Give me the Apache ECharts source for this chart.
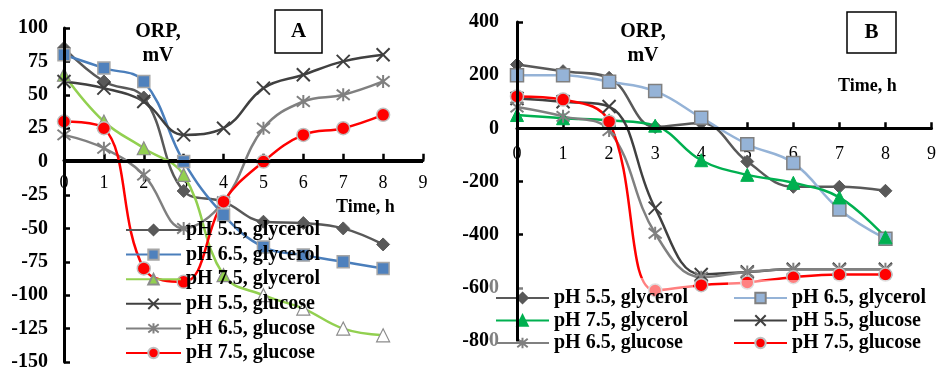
<!DOCTYPE html>
<html><head><meta charset="utf-8">
<script src="https://cdn.jsdelivr.net/npm/echarts@6/dist/echarts.min.js"></script>
<style>html,body{margin:0;padding:0;background:#fff}#c{width:939px;height:372px}</style>
</head><body><div id="c"></div>
<script>
// ---- data ----
const hours = [0, 1, 2, 3, 4, 5, 6, 7, 8];
const seriesNames = ['pH 5.5, glycerol', 'pH 6.5, glycerol', 'pH 7.5, glycerol', 'pH 5.5, glucose', 'pH 6.5, glucose', 'pH 7.5, glucose'];

// Panel A (ORP, mV)
const aPh55Glycerol = [85, 60, 48, -22, -30, -45, -46, -50, -62];
const aPh65Glycerol = [80, 70, 60, 0, -40, -64, -70, -75, -80];
const aPh75Glycerol = [65, 30, 10, -10, -85, -100, -110, -125, -130];
const aPh55Glucose  = [60, 55, 45, 20, 25, 55, 65, 75, 80];
const aPh65Glucose  = [20, 10, -10, -50, -30, 25, 45, 50, 60];
const aPh75Glucose  = [30, 25, -80, -90, -30, 0, 20, 25, 35];

// Panel B (ORP, mV)
const bPh55Glycerol = [240, 215, 190, 5, 20, -125, -220, -220, -235];
const bPh65Glycerol = [200, 200, 175, 140, 40, -60, -130, -305, -415];
const bPh75Glycerol = [50, 38, 30, 10, -120, -175, -205, -260, -410];
const bPh55Glucose  = [112, 100, 82, -300, -550, -540, -530, -530, -530];
const bPh65Glucose  = [80, 45, -8, -395, -560, -540, -530, -530, -530];
const bPh75Glucose  = [120, 108, 25, -610, -590, -580, -560, -550, -550];

const aValues = [aPh55Glycerol, aPh65Glycerol, aPh75Glycerol, aPh55Glucose, aPh65Glucose, aPh75Glucose];
const bValues = [bPh55Glycerol, bPh65Glycerol, bPh75Glycerol, bPh55Glucose, bPh65Glucose, bPh75Glucose];

const xTickMin = 0, xTickMax = 9, xTickStep = 1;
const aYMin = -150, aYMax = 100, aYStep = 25;
const bYMin = -800, bYMax = 400, bYStep = 200;

// ---- layout / styles ----
const FONT = 'Liberation Serif';
const gridA = {left: 64, top: 28, width: 359, height: 337};
const gridB = {left: 517, top: 22, width: 416, height: 319};
const X_PATH = 'path://M1,1L9,9M9,1L1,9';
const STAR_PATH = 'path://M1,1L9,9M9,1L1,9M5,0L5,10';

const aStyles = [
  {line: '#595959', fill: '#595959', border: '#595959', symbol: 'diamond', size: 13, bw: 1},
  {line: '#4a7ebb', fill: '#4f81bd', border: '#a6a6a6', symbol: 'rect', size: 12, bw: 1.5},
  {line: '#92d050', fill: '#92d050', border: '#8c8c8c', symbol: 'triangle', size: 13, bw: 1.2, hollowFrom: 5},
  {line: '#404040', fill: '#404040', border: '#404040', symbol: X_PATH, size: 13, bw: 2},
  {line: '#808080', fill: '#808080', border: '#808080', symbol: STAR_PATH, size: 13, bw: 2},
  {line: '#ff0000', fill: '#ff0000', border: '#bfbfbf', symbol: 'circle', size: 13, bw: 1.5}
];
const bStyles = [
  {line: '#595959', fill: '#595959', border: '#595959', symbol: 'diamond', size: 13, bw: 1},
  {line: '#95b3d7', fill: '#95b3d7', border: '#808080', symbol: 'rect', size: 13, bw: 1.5},
  {line: '#00b050', fill: '#00b050', border: '#00b050', symbol: 'triangle', size: 13, bw: 1},
  {line: '#404040', fill: '#404040', border: '#404040', symbol: X_PATH, size: 13, bw: 2},
  {line: '#808080', fill: '#808080', border: '#808080', symbol: STAR_PATH, size: 13, bw: 2},
  {line: '#ff0000', fill: '#ff0000', border: '#bfbfbf', symbol: 'circle', size: 13, bw: 1.5}
];

// axis lines reinforced through the library's own scales (x = 0 and y = 0)
const axisMarkLine = {
  silent: true, animation: false, symbol: ['none', 'none'],
  label: {show: false}, emphasis: {disabled: true},
  lineStyle: {color: '#000', width: 3, type: 'solid'},
  data: [{xAxis: 0}, {yAxis: 0}]
};

function makeSeries(panelB, idx, values, st) {
  const s = {
    type: 'line',
    name: (panelB ? 'B: ' : '') + seriesNames[idx],
    xAxisIndex: panelB ? 1 : 0,
    yAxisIndex: panelB ? 1 : 0,
    smooth: 0.4,
    symbol: st.symbol,
    symbolSize: st.size,
    lineStyle: {color: st.line, width: 2.5},
    itemStyle: {color: st.fill, borderColor: st.border, borderWidth: st.bw},
    data: hours.map((h, i) => {
      const d = {value: [h, values[i]]};
      if (st.hollowFrom !== undefined && i >= st.hollowFrom) d.itemStyle = {color: '#ffffff', borderColor: '#8c8c8c', borderWidth: 1.2};
      return d;
    }),
    emphasis: {disabled: true},
    animation: false
  };
  if (idx === 0) s.markLine = axisMarkLine;
  return s;
}

const series = [];
aValues.forEach((v, i) => series.push(makeSeries(false, i, v, aStyles[i])));
bValues.forEach((v, i) => series.push(makeSeries(true, i, v, bStyles[i])));

// x axis drawn through y = 0: shift it up from the grid bottom by the pixel height of the negative range
function xAxisCfg(gridIndex, grid, yMin, yMax, margin) {
  return {
    type: 'value', gridIndex: gridIndex, min: xTickMin, max: xTickMax, interval: xTickStep,
    position: 'bottom',
    offset: -grid.height * (0 - yMin) / (yMax - yMin),
    axisLine: {show: true, onZero: false, lineStyle: {color: '#000', width: 3}},
    axisTick: {show: true, inside: true, length: 6, lineStyle: {color: '#000', width: 2.5}},
    axisLabel: {fontFamily: FONT, fontSize: 18, color: '#000', margin: margin},
    splitLine: {show: false}
  };
}
function yAxisCfg(gridIndex, min, max, step, margin) {
  return {
    type: 'value', gridIndex: gridIndex, min: min, max: max, interval: step,
    axisLine: {show: true, onZero: false, lineStyle: {color: '#000', width: 3}},
    axisTick: {show: true, inside: true, length: 6, lineStyle: {color: '#000', width: 2.5}},
    axisLabel: {fontFamily: FONT, fontSize: 20, fontWeight: 'bold', color: '#000', margin: margin},
    splitLine: {show: false}
  };
}

const legendText = {fontFamily: FONT, fontSize: 20, fontWeight: 'bold', color: '#000', lineHeight: 20};
const strip = n => n.replace(/^B: /, '');
const tf = 'bold 20px "Liberation Serif"';

const option = {
  animation: false,
  grid: [Object.assign({}, gridA), Object.assign({}, gridB)],
  xAxis: [xAxisCfg(0, gridA, aYMin, aYMax, 14), xAxisCfg(1, gridB, bYMin, bYMax, 17)],
  yAxis: [yAxisCfg(0, aYMin, aYMax, aYStep, 16), yAxisCfg(1, bYMin, bYMax, bYStep, 18)],
  legend: [
    {orient: 'vertical', left: 125, top: 220, padding: 0, itemWidth: 55, itemHeight: 13, itemGap: 4.6,
     data: seriesNames.slice(), textStyle: legendText, selectedMode: false},
    {orient: 'vertical', left: 490, top: 278, padding: [10, 5, 10, 5], itemWidth: 53, itemHeight: 13, itemGap: 2.5,
     backgroundColor: 'rgba(255,255,255,0.5)',
     data: ['B: ' + seriesNames[0], 'B: ' + seriesNames[2], 'B: ' + seriesNames[4]], textStyle: legendText, formatter: strip, selectedMode: false},
    {orient: 'vertical', left: 728, top: 280, padding: [8, 5, 8, 5], itemWidth: 53, itemHeight: 13, itemGap: 2.5,
     backgroundColor: 'rgba(255,255,255,0.5)',
     data: ['B: ' + seriesNames[1], 'B: ' + seriesNames[3], 'B: ' + seriesNames[5]], textStyle: legendText, formatter: strip, selectedMode: false}
  ],
  graphic: [
    {type: 'text', x: 158, y: 22, z: 10, style: {text: 'ORP,', font: tf, fill: '#000', align: 'center'}},
    {type: 'text', x: 158, y: 46, z: 10, style: {text: 'mV', font: tf, fill: '#000', align: 'center'}},
    {type: 'text', x: 643, y: 22, z: 10, style: {text: 'ORP,', font: tf, fill: '#000', align: 'center'}},
    {type: 'text', x: 643, y: 46, z: 10, style: {text: 'mV', font: tf, fill: '#000', align: 'center'}},
    {type: 'text', x: 336, y: 198, z: 10, style: {text: 'Time, h', font: 'bold 18px "Liberation Serif"', fill: '#000'}},
    {type: 'text', x: 838, y: 77, z: 10, style: {text: 'Time, h', font: 'bold 18px "Liberation Serif"', fill: '#000'}},
    {type: 'rect', z: 10, shape: {x: 275, y: 10, width: 47, height: 43}, style: {fill: '#fff', stroke: '#000', lineWidth: 1.5}},
    {type: 'text', z: 11, x: 298.5, y: 21, style: {text: 'A', font: 'bold 21px "Liberation Serif"', fill: '#000', align: 'center'}},
    {type: 'rect', z: 10, shape: {x: 847, y: 12, width: 49, height: 41}, style: {fill: '#fff', stroke: '#000', lineWidth: 1.5}},
    {type: 'text', z: 11, x: 871.5, y: 22, style: {text: 'B', font: 'bold 21px "Liberation Serif"', fill: '#000', align: 'center'}}
  ],
  series: series
};

const chart = echarts.init(document.getElementById('c'));
chart.setOption(option);
</script>
</body></html>
